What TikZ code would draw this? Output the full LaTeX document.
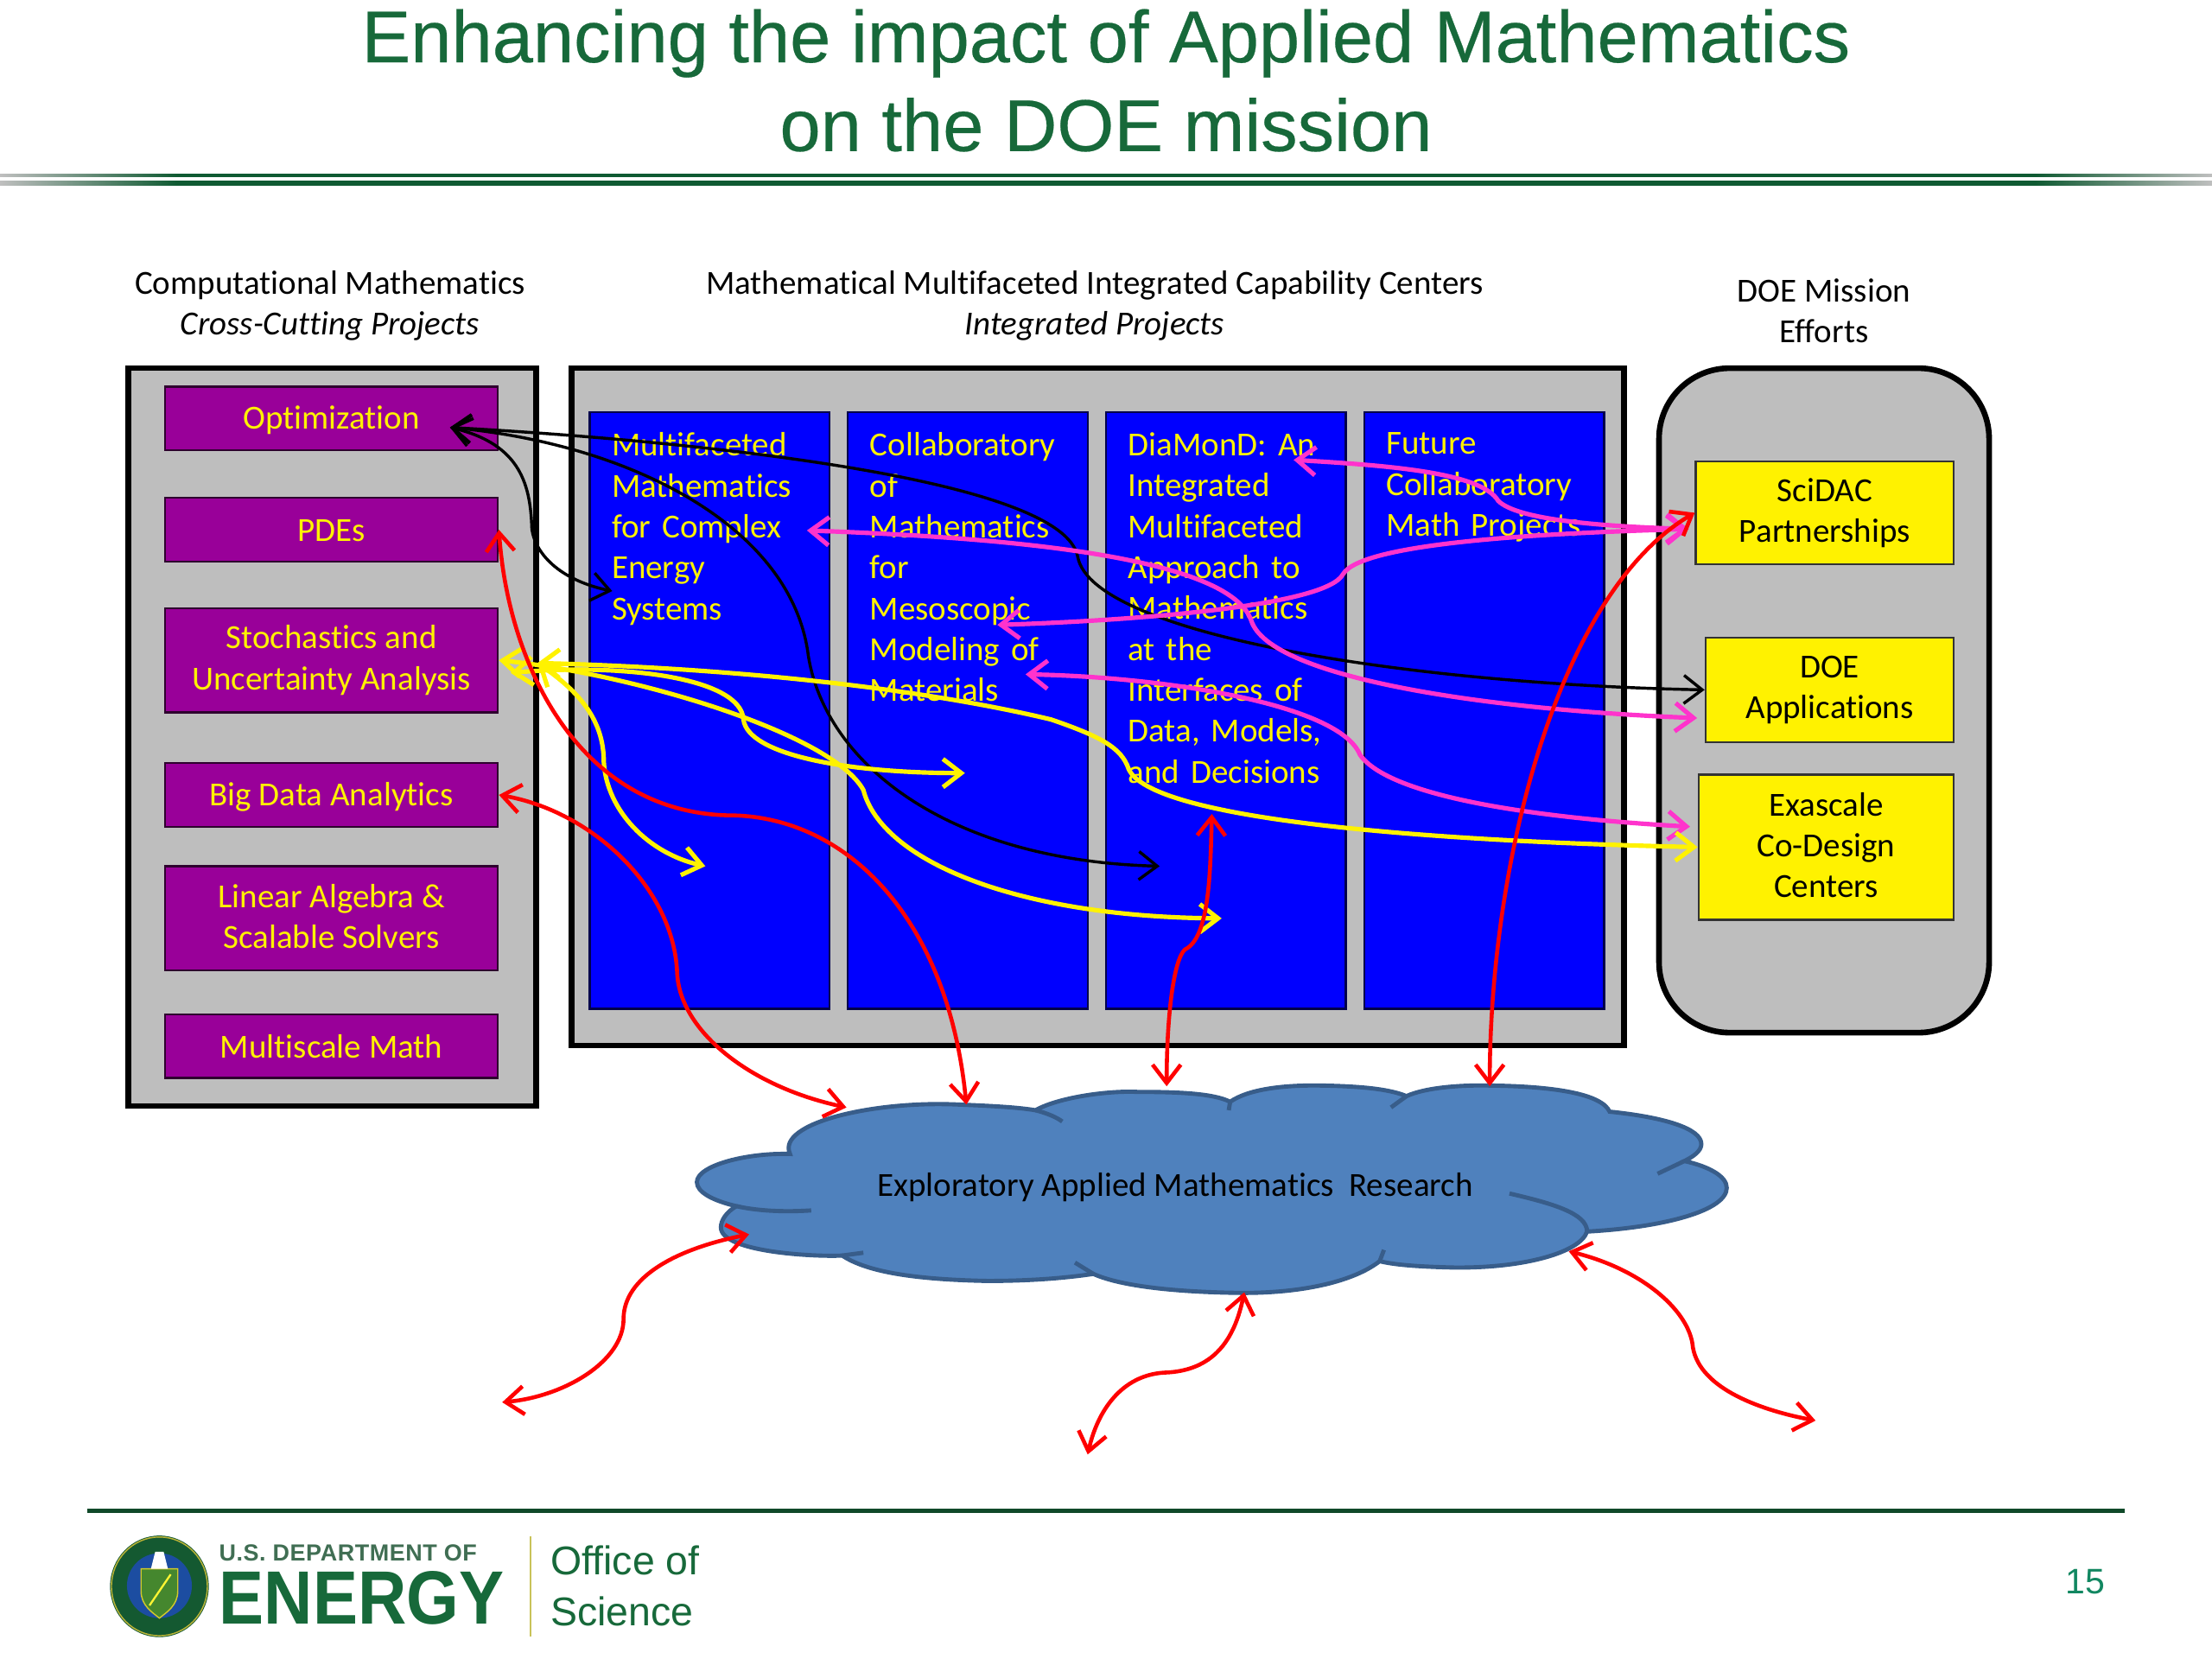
\documentclass[tikz,border=0pt]{standalone}
\usepackage{fontspec}
\setmainfont{Carlito}[Ligatures=NoCommon]
\newfontfamily\arialfont{Liberation Sans}
\newfontfamily\titlefont{Liberation Sans}[FakeBold=0.3]
\usetikzlibrary{arrows.meta,fit}

\definecolor{doegreen}{HTML}{17693A}
\definecolor{ruledark}{HTML}{0F5A32}
\definecolor{panelgray}{HTML}{BEBEBE}
\definecolor{mathpurple}{HTML}{990099}
\definecolor{pinkline}{HTML}{FF33CC}
\definecolor{cloudfill}{HTML}{4F81BD}
\definecolor{cloudedge}{HTML}{385D8A}
\definecolor{sealblue}{HTML}{1C4DA1}
\pgfdeclarehorizontalshading{rulefade}{100bp}{color(0bp)=(black!25); color(25bp)=(black!25); color(29bp)=(ruledark); color(71bp)=(ruledark); color(75bp)=(black!25); color(100bp)=(black!25)}
\newcommand\boxstrut{\rule[-1.6pt]{0pt}{12.6pt}}

\begin{document}
\begin{tikzpicture}[
  x=0.02cm, y=-0.02cm,
  bodyfont/.style={font=\fontsize{13.6}{16.5}\selectfont},
  panel/.style={draw=black, line width=2.3pt, fill=panelgray, inner sep=0pt},
  mathbox/.style={draw=black!70!mathpurple, line width=0.8pt, fill=mathpurple, text=yellow,
    bodyfont, align=center, inner sep=0pt, minimum width=4.72cm, minimum height=0.9cm,
    execute at begin node=\boxstrut, execute at end node=\boxstrut},
  column/.style={draw=black!70!blue, line width=0.8pt, fill=blue, inner sep=0pt},
  coltext/.style={text=yellow, bodyfont, align=left, anchor=north west, text width=3.4cm,
    inner xsep=0.32cm, inner ysep=0.3cm},
  mission/.style={draw=black!80, line width=0.8pt, fill=yellow, text=black,
    bodyfont, align=center, inner sep=0pt,
    execute at begin node=\boxstrut, execute at end node=\boxstrut},
  head/.style={bodyfont, align=center, text=black},
  tip/.style={{Straight Barb[length=2.6mm,width=4mm]}-{Straight Barb[length=2.6mm,width=4mm]}},
  blackflow/.style={tip, draw=black, line width=1.2pt},
  pinkflow/.style={tip, draw=pinkline, line width=1.8pt},
  yellowflow/.style={tip, draw=yellow, line width=1.8pt},
  redflow/.style={tip, draw=red, line width=1.6pt}
]

\useasboundingbox (0,0) rectangle (1568,1176);

% title
\shade[shading=rulefade, draw=none] (0,123.7) rectangle (1568,125.3);
\shade[shading=rulefade, draw=none] (0,128.5) rectangle (1568,131.5);
\node[text=doegreen, align=center, font=\titlefont\fontsize{29.6}{35.8}\selectfont] (title) at (784,57)
  {Enhancing the impact of Applied Mathematics\\on the DOE mission};

% headers
\node[head] (headleft) at (234,216.5) {Computational Mathematics\\\textit{Cross-Cutting Projects}};
\node[head] (headmid) at (776,216.5) {Mathematical Multifaceted Integrated Capability Centers\\\textit{Integrated Projects}};
\node[head] (headright) at (1293,220.5) {DOE Mission\\Efforts};

% panels
\node[panel, fit={(91,261)(380,784)}] (leftpanel) {};
\node[panel, fit={(405,261)(1151,741)}] (midpanel) {};
\node[panel, rounded corners=1cm, fit={(1176,261)(1410,732)}] (rightpanel) {};

\node[mathbox] (optim) at (235,296.5) {Optimization};
\node[mathbox] (pdes) at (235,375.5) {PDEs};
\node[mathbox, minimum height=1.48cm] (stoch) at (235,468) {Stochastics and\\Uncertainty Analysis};
\node[mathbox] (bigdata) at (235,563.5) {Big Data Analytics};
\node[mathbox, minimum height=1.48cm] (linalg) at (235,651) {Linear Algebra \&\\Scalable Solvers};
\node[mathbox] (multiscale) at (235,741.5) {Multiscale Math};

\node[column, fit={(418,292)(588,715)}] (multi) {};
\node[column, fit={(601,292)(771,715)}] (collab) {};
\node[column, fit={(784,292)(954,715)}] (diamond) {};
\node[column, fit={(967,292)(1137,715)}] (future) {};
\node[coltext] (multitext) at (multi.north west) {Multifaceted\\Mathematics\\for Complex\\Energy\\Systems};
\node[coltext] (collabtext) at (collab.north west) {Collaboratory\\of\\Mathematics\\for\\Mesoscopic\\Modeling of\\Materials};
\node[coltext] (diamondtext) at (diamond.north west) {DiaMonD: An\\Integrated\\Multifaceted\\Approach to\\Mathematics\\at the\\Interfaces of\\Data, Models,\\and Decisions};
\node[coltext] (futuretext) at (future.north west) {Future\\Collaboratory\\Math Projects};

\node[mission, minimum width=3.66cm, minimum height=1.46cm] (scidac) at (1293.5,363.5) {SciDAC\\Partnerships};
\node[mission, minimum width=3.52cm, minimum height=1.48cm] (doeapps) at (1297,489) {DOE\\Applications};
\node[mission, minimum width=3.62cm, minimum height=2.06cm] (exascale) at (1294.5,600.5) {Exascale\\Co-Design\\Centers};

% cloud
\draw[fill=cloudfill, draw=cloudedge, line width=1.7pt] (560,818)
  .. controls (550,796) and (620,780) .. (680,783)
  .. controls (705,784) and (722,785) .. (734,787)
  .. controls (750,778) and (785,773) .. (806,774)
  .. controls (835,774) and (860,775) .. (872,781)
  .. controls (885,772) and (910,769) .. (937,769.5)
  .. controls (965,770) and (985,772) .. (997,777)
  .. controls (1010,771) and (1035,769) .. (1056,769.5)
  .. controls (1100,770) and (1135,775) .. (1141,788)
  .. controls (1180,792) and (1206,800) .. (1206,811)
  .. controls (1206,816) and (1200,820) .. (1194,823)
  .. controls (1212,827) and (1224,834) .. (1224,842)
  .. controls (1224,858) and (1180,870) .. (1125,873)
  .. controls (1120,888) and (1080,899) .. (1031,898.5)
  .. controls (1010,898) and (990,897) .. (978,894)
  .. controls (960,908) and (925,916.5) .. (881,916.5)
  .. controls (835,916) and (795,912) .. (775,903)
  .. controls (755,906) and (730,908) .. (700,908)
  .. controls (650,907) and (615,902) .. (597,890)
  .. controls (580,891) and (511,888) .. (511,870)
  .. controls (511,865) and (515,859) .. (522,855)
  .. controls (505,851) and (494,845) .. (494,838)
  .. controls (494,826) and (530,817) .. (560,818) -- cycle;
\draw[draw=cloudedge, line width=1.7pt]
  (734,787) .. controls (742,789) and (749,792) .. (753,795)
  (872,781) -- (871,787)
  (997,777) -- (986,785)
  (1194,823) -- (1175,832)
  (1070,846) .. controls (1100,853) and (1125,860) .. (1125,873)
  (978,894) -- (981,886)
  (775,903) -- (762,895)
  (597,890) -- (612,888)
  (522,855) .. controls (540,859) and (560,859) .. (575,858);
\node[bodyfont, text=black] (research) at (833,841.5) {Exploratory Applied Mathematics\ \ Research};

% free ends
\coordinate (optend) at (319,303);
\coordinate (multiend) at (434,419);
\coordinate (blackend) at (822,614);
\coordinate (diatop) at (917,326);
\coordinate (sciend) at (1197,375);
\coordinate (collabend) at (707,443);
\coordinate (multimid) at (572,376);
\coordinate (doeend) at (1203,509);
\coordinate (collablow) at (727,478);
\coordinate (exaend) at (1198,586);
\coordinate (stochtop) at (381,470);
\coordinate (stochlow) at (362,477);
\coordinate (yellowmid) at (684,548);
\coordinate (yellowlow) at (866,651);
\coordinate (yellowleft) at (500,614);
\coordinate (redmid) at (859,577);
\coordinate (cloudA) at (600,785);
\coordinate (cloudB) at (685,783);
\coordinate (cloudC) at (827,770);
\coordinate (cloudD) at (1056,770);
\coordinate (cloudE) at (531,875);
\coordinate (cloudF) at (882,916);
\coordinate (cloudG) at (1112,887);
\coordinate (outA) at (356,994);
\coordinate (outB) at (771,1031);
\coordinate (outC) at (1287,1007);

% black links
\draw[blackflow] (optend) .. controls (500,313) and (755,340) .. (764,395) .. controls (775,450) and (1000,485) .. (doeapps.west);
\draw[blackflow] (optend) .. controls (450,315) and (562,375) .. (573,465) .. controls (585,540) and (670,610) .. (blackend);
\draw[blackflow] (optend) .. controls (370,315) and (376,345) .. (377,375) .. controls (380,395) and (400,412) .. (multiend);

% pink links
\draw[pinkflow] (diatop) .. controls (985,330) and (1050,335) .. (1062,355) .. controls (1075,368) and (1130,373) .. (sciend);
\draw[pinkflow] (collabend) .. controls (800,440) and (940,430) .. (952,407) .. controls (965,385) and (1090,378) .. (sciend);
\draw[pinkflow] (multimid) .. controls (680,380) and (870,390) .. (887,440) .. controls (900,480) and (1050,503) .. (doeend);
\draw[pinkflow] (collablow) .. controls (830,480) and (950,500) .. (964,535) .. controls (985,565) and (1090,580) .. (exaend);

% yellow links
\draw[yellowflow] (stochtop) .. controls (500,473) and (640,485) .. (745,510) .. controls (780,522) and (795,530) .. (800,545) .. controls (815,580) and (1000,596) .. (exascale.west);
\draw[yellowflow] (stoch.east) .. controls (450,478) and (590,520) .. (612,560) .. controls (625,610) and (720,650) .. (yellowlow);
\draw[yellowflow] (stochlow) .. controls (440,470) and (525,480) .. (527,510) .. controls (530,535) and (600,548) .. (yellowmid);
\draw[yellowflow] (stochtop) .. controls (410,490) and (428,510) .. (428,540) .. controls (430,575) and (460,605) .. (yellowleft);

% red links
\draw[redflow] (pdes.east) .. controls (360,470) and (410,578) .. (520,578) .. controls (600,580) and (672,650) .. (cloudB);
\draw[redflow] (bigdata.east) .. controls (420,575) and (478,630) .. (480,690) .. controls (482,730) and (530,770) .. (cloudA);
\draw[redflow] (redmid) .. controls (858,620) and (857,665) .. (840,673) .. controls (832,680) and (827,720) .. (cloudC);
\draw[redflow] (scidac.west) .. controls (1105,420) and (1056,610) .. (cloudD);
\draw[redflow] (cloudE) .. controls (480,885) and (442,905) .. (442,935) .. controls (442,965) and (400,990) .. (outA);
\draw[redflow] (cloudF) .. controls (875,950) and (860,972) .. (825,973) .. controls (795,975) and (778,1000) .. (outB);
\draw[redflow] (cloudG) .. controls (1165,900) and (1198,930) .. (1200,955) .. controls (1205,985) and (1250,1000) .. (outC);

% footer
\draw[doegreen!70!black, line width=1.5pt] (62,1071) -- (1506,1071);
\fill[doegreen!85!black] (113,1124.5) ellipse [x radius=35, y radius=36];
\draw[yellow!70!black, line width=0.5pt] (113,1124.5) ellipse [x radius=34, y radius=35];
\fill[sealblue] (113,1124) circle (23);
\fill[doegreen!80!yellow, draw=yellow!80!black, line width=0.5pt] (100,1112) -- (126,1112) -- (126,1128) .. controls (126,1138) and (118,1143) .. (113,1147) .. controls (108,1143) and (100,1138) .. (100,1128) -- cycle;
\draw[yellow!80!white, line width=0.8pt] (106,1138) -- (121,1116);
\fill[white] (107,1112) -- (119,1112) -- (116,1100) -- (110,1100) -- cycle;
\node[text=doegreen!70!black!80, font=\arialfont\bfseries\fontsize{9.4}{11}\selectfont\addfontfeature{LetterSpace=2}, anchor=west, inner sep=0pt] (deptof) at (155,1101) {U.S. DEPARTMENT OF};
\node[text=doegreen, font=\arialfont\bfseries\fontsize{27.2}{30}\selectfont, anchor=west, inner sep=0pt, yscale=1.12, transform shape] (energy) at (155,1133) {ENERGY};
\draw[yellow!70!black!80, line width=0.8pt] (376,1089) -- (376,1160);
\node[text=doegreen, font=\arialfont\fontsize{16.2}{20}\selectfont, anchor=west, inner sep=0pt] (office) at (390,1106) {Office of};
\node[text=doegreen, font=\arialfont\fontsize{16.2}{20}\selectfont, anchor=west, inner sep=0pt] (science) at (390,1142) {Science};
\node[text=doegreen!80!cyan, font=\arialfont\fontsize{14.3}{17}\selectfont] (pagenum) at (1478,1121) {15};

\end{tikzpicture}
\end{document}
